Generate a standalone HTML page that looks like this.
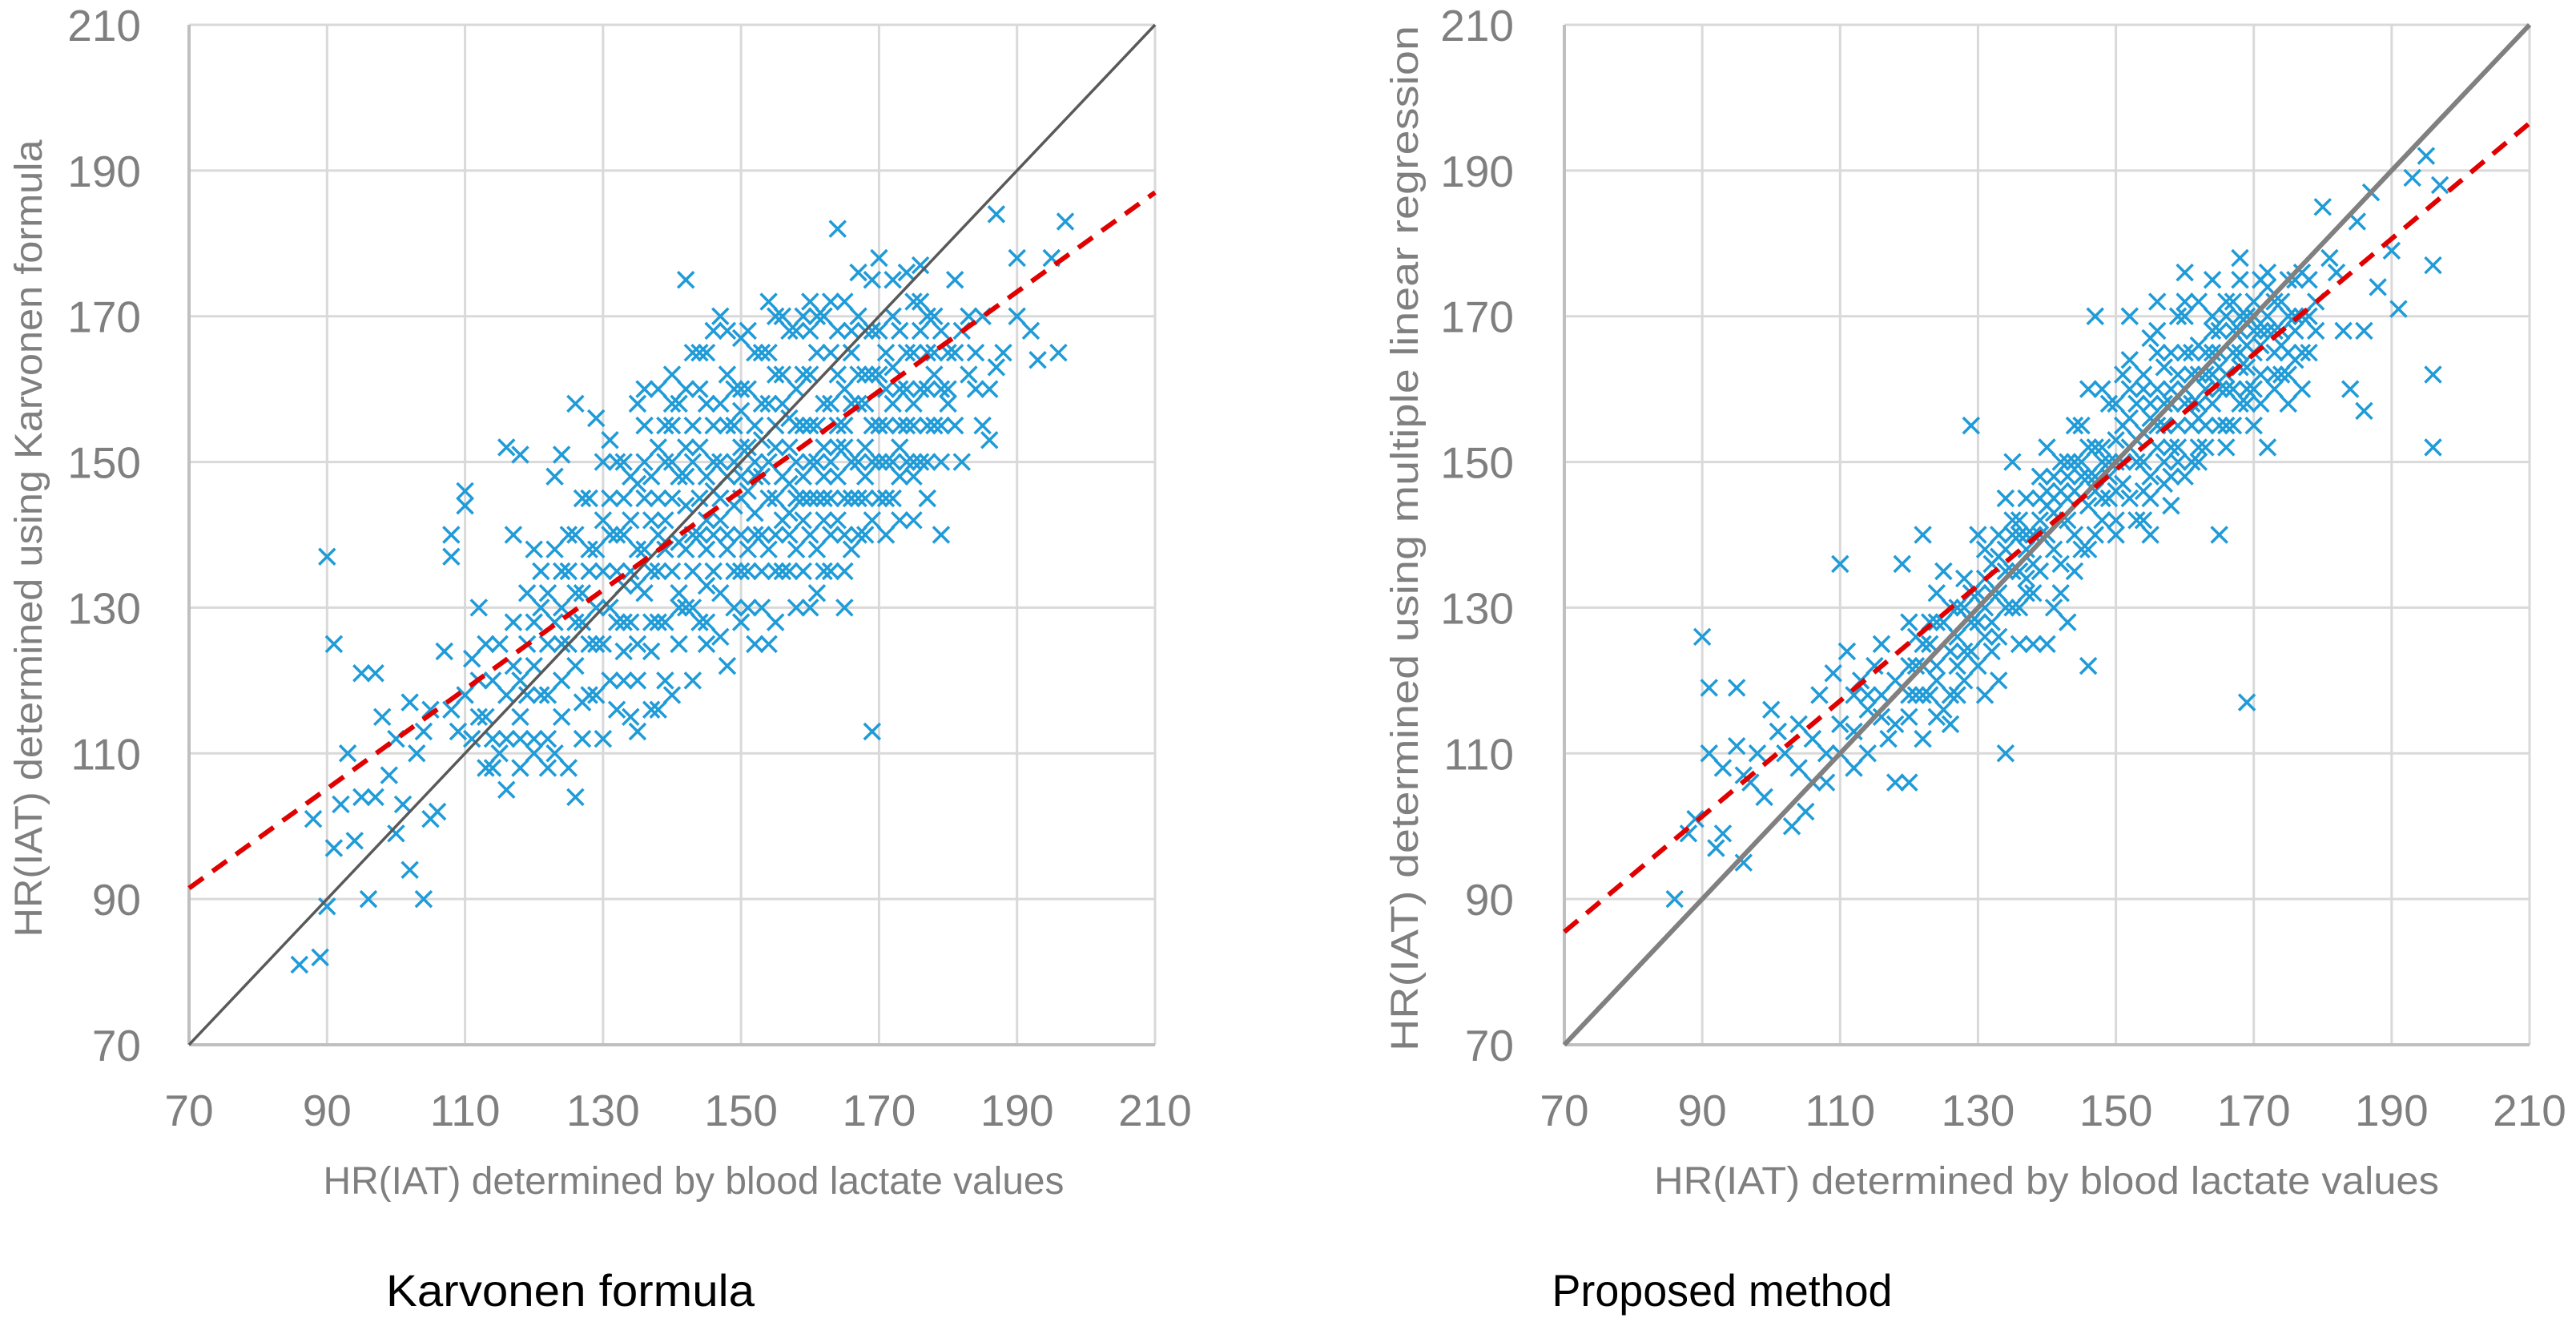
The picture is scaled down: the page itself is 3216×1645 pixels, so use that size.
<!DOCTYPE html>
<html><head><meta charset="utf-8">
<style>
html,body{margin:0;padding:0;background:#fff;}
svg{display:block;font-family:"Liberation Sans Narrow","Liberation Sans",sans-serif;}
</style></head>
<body>
<svg id="chart" width="3216" height="1645" viewBox="0 0 3216 1645" xmlns="http://www.w3.org/2000/svg"></svg>
<script>
const ticks = [70, 90, 110, 130, 150, 170, 190, 210];
const tickLabels = ["70","90","110","130","150","170","190","210"];
const leftPoints = "86,81;89,82;90,89;90,137;91,125;96,90;104,90;102,94;169,113;164,182;142,175;187,184;197,183;195,178;196,165;193,164;190,178;186,153;88,101;92,103;93,110;91,97;95,104;97,121;95,121;98,115;100,99;101,103;99,107;103,110;104,113;105,101;106,102;108,116;107,124;108,140;108,137;110,146;110,144;111,123;112,130;113,108;109,113;105,116;102,117;100,112;97,104;94,98;115,110;116,152;118,151;117,140;119,125;120,138;121,118;122,112;123,110;124,115;125,108;126,104;127,117;124,151;126,158;123,148;128,145;129,156;130,150;131,153;132,128;133,120;134,115;133,140;134,135;135,147;135,158;136,145;137,124;138,116;138,160;139,150;140,162;141,139;141,132;142,144;143,165;143,155;144,128;145,133;145,148;146,168;146,140;147,150;148,122;148,138;149,155;149,160;150,145;150,135;151,152;151,130;152,165;152,148;153,140;153,158;154,125;154,150;155,145;155,162;156,170;156,135;157,152;157,147;158,130;158,160;159,155;159,142;160,168;160,150;161,145;161,138;162,158;162,152;163,165;163,140;164,148;164,155;165,160;165,135;166,150;166,145;167,170;167,158;168,152;168,148;169,175;169,162;170,155;170,145;171,165;171,150;172,170;172,158;173,160;173,148;174,165;174,155;175,172;175,150;176,160;176,168;177,155;177,145;178,170;178,162;179,150;180,165;180,158;181,175;182,168;183,162;184,160;185,170;185,155;188,165;190,170;192,168;187,163;182,150;179,140;175,142;172,145;168,140;165,130;162,135;160,130;158,138;155,128;152,125;150,128;147,126;145,125;143,120;140,118;137,116;135,113;132,116;130,112;128,125;126,128;124,130;122,125;120,122;118,115;116,118;114,120;113,125;112,115;117,128;119,132;121,135;123,138;125,140;127,132;129,138;131,140;133,145;136,150;138,140;140,150;142,152;144,160;146,155;148,162;150,160;152,155;154,165;156,158;158,168;160,172;162,170;164,168;166,165;168,168;170,178;172,175;174,176;176,177;140,145;142,138;144,140;146,146;148,148;150,152;152,140;154,138;156,142;158,145;160,140;162,145;164,142;166,138;168,158;170,162;132,135;134,128;136,132;138,135;139,128;141,125;143,130;145,138;147,142;149,144;151,146;153,148;155,152;157,140;159,148;161,155;163,150;165,152;167,145;169,150;171,155;173,152;175,158;177,165;179,160;128,118;126,122;124,120;122,118;120,110;118,108;116,105;114,112;130,125;131,130;133,133;135,138;137,142;139,138";
const leftCorePoints = "125,135;126,140;127,145;128,138;129,130;130,135;130,142;131,145;132,140;132,150;133,128;133,150;134,142;134,148;135,133;135,125;136,138;136,155;137,148;137,135;138,145;138,128;139,142;139,155;140,135;140,155;141,148;141,158;142,130;142,148;143,140;143,150;144,145;144,152;145,142;145,158;146,135;146,150;147,145;147,158;148,140;148,155;149,135;149,150;150,140;150,148;150,157;151,138;151,160;152,143;152,150;153,135;153,153;154,145;154,158;155,140;155,155;156,148;156,162;157,143;157,156;158,150;158,155;159,145;159,162;160,145;160,155;160,162;161,150;161,165;162,142;162,148;163,145;163,158;164,152;164,162;165,145;165,155;166,158;166,168;167,150;167,162;168,145;168,162;169,155;169,168;170,150;170,168;171,145;171,160;172,150;172,163;173,155;173,168;174,150;174,160;175,155;175,165;176,150;176,172;177,160;177,170;178,155;178,165;179,168;180,160;181,165;181,155;183,170;184,165;186,160;120,128;121,130;122,132;123,128;124,135;125,125;126,132;127,128;128,135;129,125;118,120;119,118;117,122;116,112;115,125;114,108;113,115;112,120;111,112;110,118;124,125;122,108;120,112;118,112;127,112;129,118;131,120;133,124;135,120;137,128;139,120;141,130;143,135;145,128;147,132;149,130;151,135;153,130;155,135;157,135;159,135;161,132;163,135;165,140;167,140;169,142;171,140;173,142;175,148;177,150;179,155;145,165;148,168;151,168;153,165;150,167;140,158;138,152;136,160;142,160;144,165;157,168;159,170;161,170;163,172;147,170;155,170;165,172;167,176;154,172";
const rightPoints = "86,90;88,99;89,101;90,126;91,119;91,110;92,97;93,108;93,99;95,119;95,111;96,95;96,107;97,106;98,110;99,104;100,116;101,113;102,110;103,100;104,114;105,102;106,112;107,118;108,110;109,121;110,136;110,114;111,124;112,118;113,120;114,116;115,122;116,125;117,112;118,106;119,136;120,128;121,126;122,140;123,118;124,132;125,135;126,114;127,122;128,130;129,155;130,140;131,138;132,128;133,120;134,110;134,145;135,150;136,140;137,132;138,125;139,148;140,152;141,143;142,136;143,145;144,155;145,150;146,122;146,160;147,170;147,148;148,142;149,158;150,153;151,162;152,170;152,145;153,150;154,160;155,167;155,140;156,155;157,163;158,152;159,170;160,165;160,148;161,158;162,172;162,162;163,155;164,168;165,160;165,140;166,170;167,165;168,178;168,158;169,117;169,170;170,165;171,175;172,168;173,160;174,172;175,165;176,170;177,160;178,175;180,185;181,178;182,176;183,168;184,160;185,183;186,168;186,157;187,187;188,174;190,179;191,171;193,189;195,192;196,177;196,162;196,152;197,188;131,118;133,126;135,130;137,138;139,135;141,130;143,128;145,138;147,140;149,145;151,150;153,142;155,148;157,150;159,155;161,150;163,165;165,168;167,172;169,163;171,162;173,168;175,158;177,170;179,168;126,124;124,120;122,122;120,115;118,120;116,115;114,110;112,108;127,130;129,132;131,134;133,137;135,142;137,145;139,142;141,148;143,150;145,145;147,152;149,150;151,155;153,158;155,158;157,158;159,162;161,165;163,160;165,163;167,160;169,166;171,168;173,172;175,175;177,176;138,140;140,140;142,142;144,146;146,148;148,150;150,146;152,152;154,154;156,160;158,160;160,160;162,156;164,162;166,162;168,165;170,170;172,174;174,166;176,164;128,124;130,128;132,132;134,135;136,135;150,140;154,146;158,144;162,150;166,152;170,155;172,152;156,172;160,176;164,175;168,175;144,135;140,125;136,125;124,128;122,112;120,106";
const rightCorePoints = "120,122;121,118;122,125;123,128;124,122;125,128;126,130;127,126;128,134;129,128;130,132;131,130;132,136;133,132;134,138;135,135;136,130;137,140;138,136;139,140;140,144;141,138;142,146;143,142;144,140;145,148;146,144;147,146;148,152;149,148;150,150;151,147;152,156;153,153;154,150;155,156;156,152;157,155;158,158;159,152;160,158;161,162;162,158;163,162;164,158;165,165;166,160;167,168;168,163;169,160;170,168;171,166;172,170;173,165;174,168;175,170;176,168;177,165;178,170;179,172;140,146;142,150;144,150;146,152;148,145;150,158;152,160;154,162;156,165;158,165;160,170;162,166;164,170;166,172;168,170;170,172;138,132;136,142;134,130;132,124;130,122;128,120;126,118;124,115;122,118;120,118;118,114;116,118;114,118;112,113;110,110;108,106;106,106;104,108;142,132;146,138;150,142;154,142;158,148;162,152;166,155;170,160;174,162;178,165;145,155;148,160;152,164;156,168;160,172;164,165;168,168;172,176;176,175;155,145;157,147;159,150;161,155;163,152;165,155;167,155;169,158;171,158;173,162;175,162;133,140;131,126;129,124;127,118;125,116;123,125;121,122;139,145;141,145;143,148;137,134;135,140";
const leftTrend = [[70, 91.5], [210, 187]];
const rightTrend = [[70, 85.5], [210, 196.5]];
const identityLine = [[70, 70], [210, 210]];

const NS = "http://www.w3.org/2000/svg";
const svg = document.getElementById("chart");
function mk(tag, attrs, parent) {
  const e = document.createElementNS(NS, tag);
  for (const k in attrs) e.setAttribute(k, attrs[k]);
  (parent || svg).appendChild(e);
  return e;
}
function parse(s){ return s.split(";").map(p => p.split(",").map(Number)); }

function panel(cfg) {
  const g = mk("g", {});
  
  
  const sx = v => cfg.x0 + (v - 70) / 140 * (cfg.x1 - cfg.x0);
  const sy = v => cfg.y1 - (v - 70) / 140 * (cfg.y1 - cfg.y0);
  ticks.forEach((t, i) => {
    const vl = mk("line", {x1: sx(t), x2: sx(t), y1: sy(70), y2: sy(210), stroke: "#d9d9d9", "stroke-width": 3}, g);
    
    
    const hl = mk("line", {x1: sx(70), x2: sx(210), y1: sy(t), y2: sy(t), stroke: "#d9d9d9", "stroke-width": 3}, g);
    
    
  });
  const ax = mk("line", {x1: sx(70), x2: sx(210), y1: sy(70), y2: sy(70), stroke: "#bfbfbf", "stroke-width": 4}, g);
  
  
  const ay = mk("line", {x1: sx(70), x2: sx(70), y1: sy(70), y2: sy(210), stroke: "#bfbfbf", "stroke-width": 4}, g);
  
  
  ticks.forEach((t, i) => {
    const xt = mk("text", {x: sx(t), y: 1405, "text-anchor": "middle", "font-size": 55, fill: "#7f7f7f"}, g);
    xt.textContent = tickLabels[i];
    
    
    const yt = mk("text", {x: cfg.ylabX, y: sy(t) + 20, "text-anchor": "end", "font-size": 55, fill: "#7f7f7f"}, g);
    yt.textContent = tickLabels[i];
    
    
  });
  const pts = parse(cfg.points).concat(parse(cfg.core));
  const r = 10;
  pts.forEach(p => {
    const cx = sx(p[0]), cy = sy(p[1]);
    const m = mk("path", {d: `M${cx-r},${cy-r}L${cx+r},${cy+r}M${cx-r},${cy+r}L${cx+r},${cy-r}`, stroke: "#1f9bd8", "stroke-width": 3.5, fill: "none"}, g);
    
    
  });
  const id = mk("line", {x1: sx(identityLine[0][0]), y1: sy(identityLine[0][1]), x2: sx(identityLine[1][0]), y2: sy(identityLine[1][1]), stroke: cfg.idColor, "stroke-width": cfg.idWidth}, g);
  
  
  const tr = mk("line", {x1: sx(cfg.trend[0][0]), y1: sy(cfg.trend[0][1]), x2: sx(cfg.trend[1][0]), y2: sy(cfg.trend[1][1]), stroke: "#e00000", "stroke-width": 6, "stroke-dasharray": "22 14"}, g);
  
  
  const xtT = mk("text", {x: cfg.xtitleX, y: 1490, "text-anchor": "middle", "font-size": 48, fill: "#7f7f7f", textLength: cfg.xtitleLen, lengthAdjust: "spacingAndGlyphs"}, g);
  xtT.textContent = "HR(IAT) determined by blood lactate values";
  
  
  const ytT = mk("text", {x: 0, y: 0, "text-anchor": "middle", "font-size": 48, fill: "#7f7f7f", textLength: cfg.ytitleLen, lengthAdjust: "spacingAndGlyphs", transform: `translate(${cfg.ytitleX},${cfg.ytitleY}) rotate(-90)`}, g);
  ytT.textContent = cfg.ytitle;
  
  
  const cap = mk("text", {x: cfg.capX, y: 1630, "text-anchor": "middle", "font-size": 56, fill: "#000", textLength: cfg.capLen, lengthAdjust: "spacingAndGlyphs"}, g);
  cap.textContent = cfg.caption;
  
  
}

panel({name: "karvonen-panel", x0: 236, x1: 1442, y0: 31, y1: 1304, ylabX: 176, points: leftPoints, core: leftCorePoints, trend: leftTrend,
  idColor: "#595959", idWidth: 3.5, xtitleX: 866, xtitleLen: 925, ytitle: "HR(IAT) determined using Karvonen formula",
  ytitleX: 52, ytitleY: 672, ytitleLen: 995, caption: "Karvonen formula", capX: 712, capLen: 460});
panel({name: "proposed-method-panel", x0: 1953, x1: 3158, y0: 31, y1: 1304, ylabX: 1890, points: rightPoints, core: rightCorePoints, trend: rightTrend,
  idColor: "#808080", idWidth: 6, xtitleX: 2555, xtitleLen: 980, ytitle: "HR(IAT) determined using multiple linear regression",
  ytitleX: 1770, ytitleY: 672, ytitleLen: 1280, caption: "Proposed method", capX: 2150, capLen: 425});
</script>
</body></html>
